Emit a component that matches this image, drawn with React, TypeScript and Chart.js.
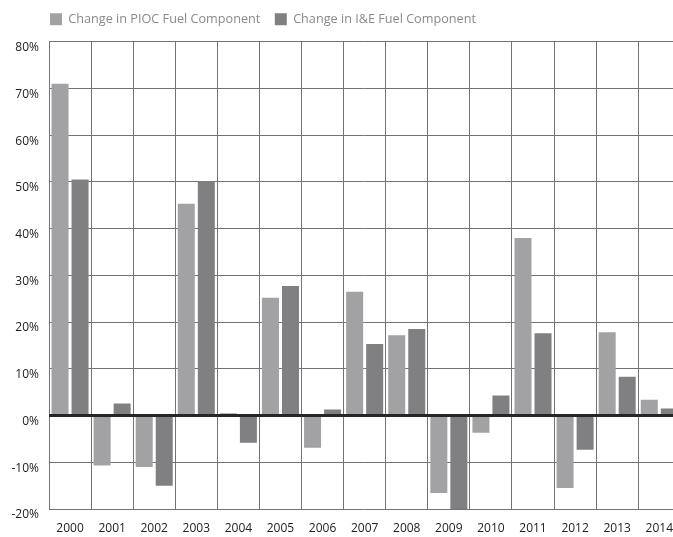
import React, { useEffect, useRef } from "react";
import { Chart, registerables } from "chart.js";

Chart.register(...registerables);

const years = ["2000","2001","2002","2003","2004","2005","2006","2007","2008","2009","2010","2011","2012","2013","2014"];
const piocChange = [71, -10.7, -11, 45.3, 0.5, 25.2, -6.9, 26.5, 17.2, -16.6, -3.7, 38, -15.5, 17.8, 3.4];
const ieChange = [50.5, 2.6, -15, 50.2, -5.8, 27.7, 1.3, 15.3, 18.5, -21, 4.3, 17.6, -7.3, 8.3, 1.5];
const seriesLabels = ["Change in PIOC Fuel Component", "Change in I&E Fuel Component"];
const yMin = -20;
const yMax = 80;
const yStep = 10;

const zeroLinePlugin = {
  id: "zeroLine",
  afterDatasetsDraw(chart: any) {
    const { ctx, chartArea, scales } = chart;
    const y = scales.y.getPixelForValue(0);
    ctx.save();
    ctx.strokeStyle = "#262626";
    ctx.lineWidth = 3;
    ctx.beginPath();
    ctx.moveTo(chartArea.left, y);
    ctx.lineTo(chartArea.right, y);
    ctx.stroke();
    ctx.restore();
  },
};

const legendShiftPlugin = {
  id: "legendShift",
  afterLayout(chart: any) {
    const lg = chart.legend;
    if (lg) {
      lg.left = 35.5;
      lg.top = -1.5;
    }
  },
};

export default function App() {
  const ref = useRef<HTMLCanvasElement | null>(null);
  useEffect(() => {
    if (!ref.current) return;
    Chart.defaults.font.family = "'Open Sans', sans-serif";
    const chart = new Chart(ref.current, {
      type: "bar",
      data: {
        labels: years,
        datasets: [
          {
            label: seriesLabels[0],
            data: piocChange,
            backgroundColor: "#a2a2a4",
            borderWidth: 0,
            categoryPercentage: 0.951,
            barPercentage: 0.85,
          },
          {
            label: seriesLabels[1],
            data: ieChange,
            backgroundColor: "#808082",
            borderWidth: 0,
            categoryPercentage: 0.951,
            barPercentage: 0.85,
          },
        ],
      },
      options: {
        animation: false,
        responsive: false,
        maintainAspectRatio: false,
        layout: { padding: { top: 4.5, left: 0, right: 0, bottom: 0 } },
        plugins: {
          legend: {
            position: "top",
            align: "start",
            labels: {
              boxWidth: 12,
              boxHeight: 12,
              padding: 14.5,
              color: "#8a8a8a",
              font: { size: 12.66 },
            },
          },
          tooltip: { enabled: false },
        },
        scales: {
          x: {
            grid: { color: "#737373", lineWidth: 1, drawTicks: false, offset: true },
            border: { display: false },
            ticks: { color: "#222", font: { size: 12 }, padding: 12, maxRotation: 0 },
            afterFit(scale: any) {
              scale.height = 28;
            },
          },
          y: {
            min: yMin,
            max: yMax,
            grid: { color: "#737373", lineWidth: 1, drawTicks: false },
            border: { display: false },
            ticks: {
              stepSize: yStep,
              color: "#222",
              font: { size: 12 },
              padding: 10,
              labelOffset: 6,
              callback: (v: any) => v + "%",
            },
            afterFit(scale: any) {
              scale.width = 49;
            },
          },
        },
      },
      plugins: [zeroLinePlugin, legendShiftPlugin],
    });
    return () => chart.destroy();
  }, []);
  return (
    <div style={{ position: "fixed", left: 0, top: 0, width: 673, height: 537, overflow: "hidden", background: "#fff" }}>
      <canvas ref={ref} width={685} height={537} style={{ width: 685, height: 537, display: "block" }} />
    </div>
  );
}
